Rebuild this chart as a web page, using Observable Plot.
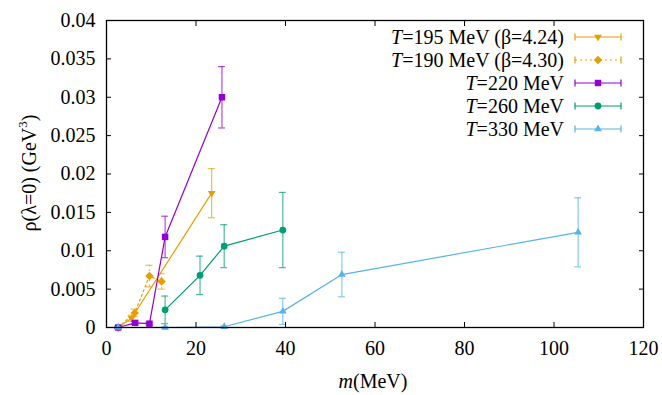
<!DOCTYPE html>
<html><head><meta charset="utf-8">
<script src="https://cdn.jsdelivr.net/npm/d3@7"></script>
<script src="https://cdn.jsdelivr.net/npm/@observablehq/plot@0.6"></script>
<style>body{margin:0;background:#fff}</style>
</head><body><div id="chart"></div>
<script>
const xTicks = [0, 20, 40, 60, 80, 100, 120];
const yTicks = [0, 0.005, 0.01, 0.015, 0.02, 0.025, 0.03, 0.035, 0.04];

// T=195 MeV (beta=4.24)
const m195 = [2.6, 5.6, 23.5];
const r195 = [0, 0.0012, 0.0175];
const e195 = [0.0001, 0.0004, 0.0032];
// T=190 MeV (beta=4.30)
const m190 = [2.6, 6.3, 9.6, 12.3];
const r190 = [0, 0.0019, 0.0067, 0.0060];
const e190 = [0.0001, 0.0005, 0.0014, 0.0010];
// T=220 MeV
const m220 = [2.6, 6.4, 9.6, 13.1, 25.8];
const r220 = [0, 0.0006, 0.0005, 0.0118, 0.0300];
const e220 = [0.0001, 0.0002, 0.0002, 0.0027, 0.0040];
// T=260 MeV
const m260 = [13.1, 20.9, 26.3, 39.4];
const r260 = [0.0023, 0.0068, 0.0106, 0.0127];
const e260 = [0.0018, 0.0025, 0.0028, 0.0049];
// T=330 MeV
const m330 = [2.6, 13.1, 26.3, 39.4, 52.6, 105.4];
const r330 = [0, 0, 0.0001, 0.0021, 0.0069, 0.0124];
const e330 = [0.0001, 0.0001, 0.0001, 0.0017, 0.0029, 0.0045];

const labels = ["=195 MeV (\u03b2=4.24)", "=190 MeV (\u03b2=4.30)", "=220 MeV", "=260 MeV", "=330 MeV"];
const colors = ["#e69f00", "#e69f00", "#9400d3", "#009e73", "#56b4e9"];

const invTri = {draw(ctx, size){const r = Math.sqrt(size/Math.PI)*1.3; ctx.moveTo(0, r); ctx.lineTo(r*0.866, -r*0.5); ctx.lineTo(-r*0.866, -r*0.5); ctx.closePath();}};
const upTri = {draw(ctx, size){const r = Math.sqrt(size/Math.PI)*1.3; ctx.moveTo(0, -r); ctx.lineTo(r*0.866, r*0.5); ctx.lineTo(-r*0.866, r*0.5); ctx.closePath();}};
const diam = {draw(ctx, size){const r = Math.sqrt(size/Math.PI)*1.25; ctx.moveTo(0, -r); ctx.lineTo(r, 0); ctx.lineTo(0, r); ctx.lineTo(-r, 0); ctx.closePath();}};
const sq = {draw(ctx, size){const r = Math.sqrt(size/Math.PI)*0.95; ctx.rect(-r, -r, 2*r, 2*r);}};
const circ = {draw(ctx, size){const r = Math.sqrt(size/Math.PI); ctx.moveTo(r, 0); ctx.arc(0, 0, r, 0, 2*Math.PI);}};
const symbols = [invTri, diam, sq, circ, upTri];
const dashes = [null, "2,3", null, null, null];

const series = [[m195, r195, e195], [m190, r190, e190], [m220, r220, e220], [m260, r260, e260], [m330, r330, e330]]
  .map(([m, r, e], k) => ({k, data: m.map((x, i) => ({m: x, r: r[i], e: e[i]}))}));

const marks = [];
for (const s of series) {
  const c = colors[s.k], dash = dashes[s.k];
  marks.push(
    Plot.ruleX(s.data, {x: "m", y1: d => d.r - d.e, y2: d => d.r + d.e, stroke: c, strokeOpacity: 0.7, strokeWidth: 1.2, strokeDasharray: dash}),
    Plot.ruleY(s.data, {y: d => d.r + d.e, x1: "m", x2: "m", insetLeft: -3.5, insetRight: -3.5, stroke: c, strokeOpacity: 0.7, strokeWidth: 1.2}),
    Plot.ruleY(s.data, {y: d => d.r - d.e, x1: "m", x2: "m", insetLeft: -3.5, insetRight: -3.5, stroke: c, strokeOpacity: 0.7, strokeWidth: 1.2}),
    Plot.line(s.data, {x: "m", y: "r", stroke: c, strokeWidth: 1.2, strokeDasharray: dash}),
    Plot.dot(s.data, {x: "m", y: "r", symbol: symbols[s.k], fill: c, r: 3.4})
  );
}

const FONT = "'Liberation Serif', 'Times New Roman', serif";
const fmt = d => String(+d.toFixed(3));
const plot = Plot.plot({
  width: 662, height: 395,
  marginLeft: 106, marginRight: 19, marginTop: 20, marginBottom: 68,
  style: `font-family: ${FONT}; font-size: 20px;`,
  x: {domain: [0, 120]},
  y: {domain: [0, 0.04]},
  marks: [
    ...marks,
    Plot.frame({stroke: "black", strokeWidth: 1.3}),
    Plot.axisX({ticks: xTicks, tickSize: -5, tickPadding: 18, tickFormat: fmt, label: null, fontSize: 20}),
    Plot.axisX({anchor: "top", ticks: xTicks, tickSize: -5, tickFormat: () => "", label: null}),
    Plot.axisY({ticks: yTicks, tickSize: -5, tickPadding: 16, tickFormat: fmt, label: null, fontSize: 20}),
    Plot.axisY({anchor: "right", ticks: yTicks, tickSize: -5, tickFormat: () => "", label: null})
  ]
});
document.getElementById("chart").appendChild(plot);

// axis titles and legend
const svg = d3.select(plot);
const xl = svg.append("text").attr("x", 373).attr("y", 388).attr("text-anchor", "middle").attr("font-size", 20).attr("fill", "black");
xl.append("tspan").attr("font-style", "italic").text("m");
xl.append("tspan").text("(MeV)");
const yl = svg.append("text").attr("transform", "translate(36,173) rotate(-90)").attr("text-anchor", "middle").attr("font-size", 20).attr("fill", "black");
yl.text("\u03c1(\u03bb=0) (GeV");
yl.append("tspan").attr("font-size", 13).attr("dy", -9).text("3");
yl.append("tspan").attr("dy", 9).text(")");

const rowsY = [37, 60, 83, 106, 129];
const leg = svg.append("g");
labels.forEach((lab, k) => {
  const y = rowsY[k], c = colors[k];
  const t = leg.append("text").attr("x", 564).attr("y", y).attr("dy", "0.33em").attr("text-anchor", "end").attr("font-size", 20).attr("fill", "black");
  t.append("tspan").attr("font-style", "italic").text("T");
  t.append("tspan").text(lab);
  leg.append("line").attr("x1", 575).attr("x2", 621).attr("y1", y).attr("y2", y).attr("stroke", c).attr("stroke-width", 1.2).attr("stroke-dasharray", dashes[k]);
  for (const x of [575, 621]) leg.append("line").attr("x1", x).attr("x2", x).attr("y1", y - 3.5).attr("y2", y + 3.5).attr("stroke", c).attr("stroke-width", 1.2);
  leg.append("path").attr("transform", `translate(598,${y})`).attr("d", d3.symbol(symbols[k], Math.PI * 3.4 * 3.4)()).attr("fill", c);
});
</script>
</body></html>
